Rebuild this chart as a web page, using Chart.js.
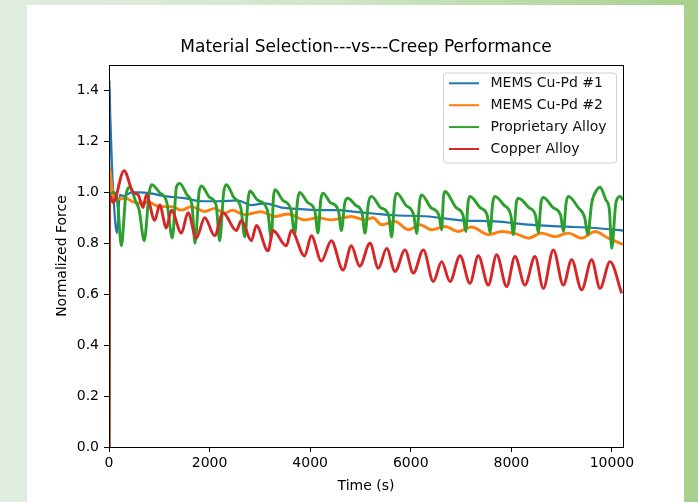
<!DOCTYPE html>
<html>
<head>
<meta charset="utf-8">
<title>Material Selection vs Creep Performance</title>
<script src="https://cdn.jsdelivr.net/npm/chart.js@4.4.1/dist/chart.umd.min.js"></script>
<style>
  html, body { margin: 0; padding: 0; }
  body {
    width: 698px; height: 502px; overflow: hidden; position: relative;
    background: linear-gradient(90deg, #e0ede0 0%, #d2e7cb 45%, #a8d08c 100%);
  }
  #card { position: absolute; left: 27px; top: 5px; width: 657px; height: 497px; background: #fff; }
  #chart { position: absolute; left: 0; top: 0; }
</style>
</head>
<body>
<div id="card"></div>
<canvas id="chart" width="698" height="502"></canvas>
<script>
// creep test: normalized force vs time for four contact materials

const chartTitle = 'Material Selection---vs---Creep Performance'
const xTitle = 'Time (s)'
const yTitle = 'Normalized Force'
const xTicks = [0, 2000, 4000, 6000, 8000, 10000]
const yTicks = [0, 0.2, 0.4, 0.6, 0.8, 1.0, 1.2, 1.4]
const seriesNames = ['MEMS Cu-Pd #1', 'MEMS Cu-Pd #2', 'Proprietary Alloy', 'Copper Alloy']
const seriesColors = ['#1f77b4', '#ff7f0e', '#2ca02c', '#d62728']

const memsOneTime = [0, 8, 25, 60, 100, 130, 160, 190, 215, 300, 450, 600, 800, 1100, 1500, 1850, 2170, 2560, 2830, 3100, 3430, 3760, 4150, 4550, 4950, 5350, 5690, 6350, 7010, 7680, 8340, 9000, 9660, 10220]
const memsOneForce = [0, 1.44, 1.30, 1.10, 0.95, 0.87, 0.84, 0.93, 0.99, 0.985, 1.0, 1.0, 0.997, 0.985, 0.977, 0.965, 0.965, 0.968, 0.95, 0.957, 0.94, 0.935, 0.93, 0.93, 0.922, 0.915, 0.91, 0.905, 0.89, 0.886, 0.873, 0.866, 0.86, 0.85]

const memsTwoTime = [0, 5, 30, 70, 130, 250, 345, 450, 577, 780, 1000, 1240, 1439, 1637, 1903, 2101, 2300, 2450, 2698, 3029, 3294, 3560, 3890, 4155, 4421, 4818, 5084, 5250, 5422, 5687, 5952, 6184, 6416, 6681, 6946, 7211, 7542, 7808, 8139, 8337, 8602, 8867, 9132, 9398, 9662, 9928, 10220]
const memsTwoForce = [0, 1.10, 1.07, 1.0, 0.975, 0.975, 0.977, 0.965, 0.957, 0.962, 0.944, 0.944, 0.93, 0.944, 0.925, 0.937, 0.918, 0.93, 0.912, 0.924, 0.905, 0.915, 0.892, 0.90, 0.892, 0.905, 0.892, 0.90, 0.873, 0.886, 0.853, 0.873, 0.853, 0.866, 0.846, 0.864, 0.834, 0.846, 0.834, 0.82, 0.84, 0.826, 0.84, 0.82, 0.846, 0.82, 0.795]

const propTime = [0, 10, 80, 170, 246, 330, 420, 520, 600, 700, 800, 850, 1000, 1150, 1260, 1340, 1405, 1550, 1650, 1710, 1790, 1840, 2000, 2130, 2200, 2280, 2335, 2480, 2620, 2700, 2770, 2800, 2950, 3150, 3228, 3270, 3300, 3450, 3620, 3692, 3750, 3790, 3950, 4090, 4155, 4210, 4255, 4400, 4560, 4620, 4690, 4750, 4900, 5030, 5090, 5160, 5220, 5400, 5560, 5620, 5680, 5720, 5900, 6060, 6117, 6180, 6217, 6400, 6560, 6614, 6650, 6681, 6900, 7040, 7092, 7140, 7177, 7380, 7520, 7575, 7630, 7675, 7850, 7990, 8039, 8100, 8139, 8350, 8480, 8536, 8590, 8636, 8830, 8980, 9034, 9090, 9132, 9330, 9460, 9518, 9600, 9700, 9763, 9880, 9950, 9995, 10080, 10160, 10220]
const propForce = [0, 0.99, 1.00, 0.96, 0.79, 0.98, 1.02, 0.97, 0.93, 0.81, 1.00, 1.03, 1.00, 0.96, 0.82, 1.02, 1.035, 0.99, 0.95, 0.80, 1.00, 1.025, 0.98, 0.95, 0.81, 1.00, 1.03, 0.98, 0.94, 0.825, 0.98, 1.005, 0.97, 0.93, 0.82, 0.98, 1.01, 0.97, 0.93, 0.835, 0.97, 1.0, 0.96, 0.93, 0.84, 0.97, 0.997, 0.96, 0.93, 0.85, 0.96, 0.977, 0.95, 0.92, 0.84, 0.96, 0.984, 0.94, 0.91, 0.825, 0.97, 0.997, 0.95, 0.91, 0.838, 0.97, 0.99, 0.94, 0.91, 0.853, 0.98, 1.003, 0.94, 0.91, 0.846, 0.96, 0.984, 0.94, 0.91, 0.842, 0.96, 0.984, 0.95, 0.91, 0.834, 0.96, 0.977, 0.94, 0.91, 0.842, 0.96, 0.98, 0.94, 0.91, 0.846, 0.96, 0.984, 0.94, 0.90, 0.834, 0.96, 1.01, 1.02, 0.97, 0.93, 0.78, 0.96, 0.984, 0.97]

const copperTime = [0, 14, 80, 299, 478, 580, 677, 743, 909, 1008, 1140, 1240, 1439, 1571, 1737, 1903, 2101, 2267, 2532, 2631, 2830, 2930, 3162, 3261, 3526, 3626, 3890, 4023, 4222, 4421, 4653, 4818, 4984, 5189, 5355, 5521, 5687, 5885, 6051, 6250, 6449, 6614, 6780, 6979, 7177, 7343, 7542, 7708, 7907, 8072, 8271, 8470, 8636, 8835, 9034, 9199, 9398, 9597, 9763, 9962, 10194]
const copperForce = [0, 0.99, 0.96, 1.085, 1.00, 0.99, 0.94, 0.99, 0.89, 0.95, 0.86, 0.93, 0.84, 0.92, 0.82, 0.90, 0.83, 0.92, 0.85, 0.89, 0.81, 0.87, 0.77, 0.85, 0.79, 0.85, 0.75, 0.83, 0.73, 0.81, 0.695, 0.79, 0.71, 0.80, 0.702, 0.78, 0.689, 0.774, 0.683, 0.774, 0.65, 0.728, 0.65, 0.751, 0.643, 0.751, 0.636, 0.755, 0.63, 0.748, 0.636, 0.748, 0.623, 0.774, 0.636, 0.735, 0.617, 0.735, 0.623, 0.728, 0.604]

const seriesTimes = [memsOneTime, memsTwoTime, propTime, copperTime]
const seriesForces = [memsOneForce, memsTwoForce, propForce, copperForce]

Chart.defaults.font.family = "'DejaVu Sans', sans-serif"
Chart.defaults.color = '#000'

function toPoints(times, forces) {
  return times.map((t, i) => ({ x: t, y: forces[i] }))
}

// matplotlib-like frame around the axes
const framePlugin = {
  id: 'frame',
  afterDatasetsDraw(chart) {
    const { ctx, chartArea: a } = chart
    ctx.save()
    ctx.strokeStyle = '#000'
    ctx.lineWidth = 1
    ctx.strokeRect(a.left + 0.5, a.top + 0.5, a.right - a.left, a.bottom - a.top)
    ctx.restore()
  }
}

// legend box in the upper right corner of the axes
const insideLegend = {
  id: 'insideLegend',
  afterDraw(chart) {
    const { ctx, chartArea: a } = chart
    const boxW = 173, boxH = 90, rowH = 21.9
    const x0 = a.right - 7 - boxW
    const y0 = a.top + 7.5
    ctx.save()
    ctx.beginPath()
    ctx.roundRect(x0 + 0.5, y0 + 0.5, boxW, boxH, 3)
    ctx.fillStyle = 'rgba(255,255,255,0.85)'
    ctx.fill()
    ctx.strokeStyle = '#d0d0d0'
    ctx.lineWidth = 1
    ctx.stroke()
    ctx.font = "14px 'DejaVu Sans'"
    ctx.textBaseline = 'middle'
    ctx.textAlign = 'left'
    chart.data.datasets.forEach((ds, i) => {
      const y = y0 + 10.8 + i * rowH
      ctx.strokeStyle = ds.borderColor
      ctx.lineWidth = 2
      ctx.beginPath()
      ctx.moveTo(x0 + 6, y)
      ctx.lineTo(x0 + 36, y)
      ctx.stroke()
      ctx.fillStyle = '#111'
      ctx.fillText(ds.label, x0 + 47.5, y)
    })
    ctx.restore()
  }
}

new Chart(document.getElementById('chart'), {
  type: 'line',
  data: {
    datasets: seriesNames.map((name, i) => ({
      label: name,
      data: toPoints(seriesTimes[i], seriesForces[i]),
      borderColor: seriesColors[i],
      backgroundColor: seriesColors[i],
      borderWidth: i === 0 ? 2.2 : 2.9,
      pointRadius: 0,
      cubicInterpolationMode: 'monotone',
      fill: false,
      order: 4 - i
    }))
  },
  options: {
    responsive: false,
    animation: false,
    devicePixelRatio: 1,
    layout: { padding: { left: 0, right: 75, top: 0, bottom: 0 } },
    plugins: {
      legend: { display: false },
      tooltip: { enabled: false },
      title: {
        display: true,
        text: chartTitle,
        fullSize: false,
        color: '#000',
        font: { size: 17, weight: 'normal' },
        padding: { top: 37.8, bottom: 6.8 }
      }
    },
    scales: {
      x: {
        type: 'linear',
        min: 0,
        max: 10220,
        border: { display: false },
        grid: { display: true, drawOnChartArea: false, drawTicks: true, tickLength: 5, tickColor: '#000' },
        afterBuildTicks: (scale) => { scale.ticks = xTicks.map(v => ({ value: v })) },
        afterFit: (scale) => { scale.height = 55 },
        ticks: {
          autoSkip: false,
          maxRotation: 0,
          padding: 3,
          font: { size: 14 },
          color: '#000',
          callback: (v) => String(v)
        },
        title: {
          display: true,
          text: xTitle,
          color: '#000',
          font: { size: 14 },
          padding: { top: 0, bottom: 7.6 }
        }
      },
      y: {
        min: 0,
        max: 1.5,
        border: { display: false },
        grid: { display: true, drawOnChartArea: false, drawTicks: true, tickLength: 5, tickColor: '#000' },
        afterBuildTicks: (scale) => { scale.ticks = yTicks.map(v => ({ value: v })) },
        afterFit: (scale) => { scale.width = 109 },
        ticks: {
          padding: 5,
          font: { size: 14 },
          color: '#000',
          callback: (v) => v.toFixed(1)
        },
        title: {
          display: true,
          text: yTitle,
          color: '#000',
          font: { size: 14 },
          padding: { top: 53.6, bottom: 0 }
        }
      }
    }
  },
  plugins: [framePlugin, insideLegend]
})
</script>
</body>
</html>
